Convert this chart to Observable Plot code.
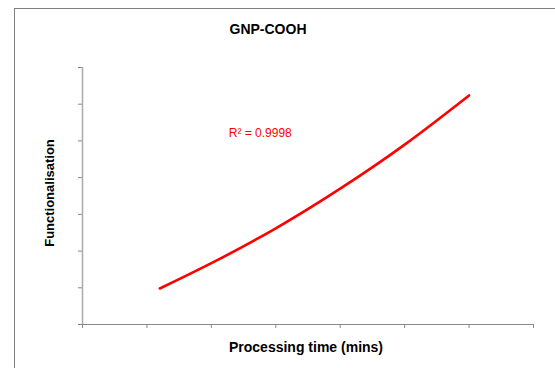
<!DOCTYPE html>
<html>
<head>
<meta charset="utf-8">
<script src="https://cdn.jsdelivr.net/npm/d3@7"></script>
<script src="https://cdn.jsdelivr.net/npm/@observablehq/plot@0.6"></script>
<style>
  html, body { margin: 0; padding: 0; background: #fff; overflow: hidden; }
  #wrap { position: relative; width: 555px; height: 368px; font-family: "Liberation Sans", Arial, sans-serif; }
  #border { position: absolute; left: 14px; top: 8px; width: 600px; height: 400px; border-left: 1px solid #808080; border-top: 1px solid #808080; box-sizing: border-box; }
  #title { position: absolute; left: 0; width: 536px; top: 21px; text-align: center; font-weight: bold; font-size: 14px; color: #000; }
  #chart { position: absolute; left: 0; top: 0; }
</style>
</head>
<body>
<div id="wrap">
  <div id="border"></div>
  <div id="title">GNP-COOH</div>
  <div id="chart"></div>
</div>
<script>
// Data (arbitrary units; the axes are unlabelled)
const times = [12, 20, 30, 40, 50, 60];
const functionalisation = [0.98, 1.67, 2.62, 3.70, 4.90, 6.24];
const xTicks = [0, 10, 20, 30, 40, 50, 60, 70];
const yTicks = [0, 1, 2, 3, 4, 5, 6, 7];
const annotation = [{x: 22.7, y: 5.2, label: "R² = 0.9998"}];

const data = times.map((t, i) => ({t, f: functionalisation[i]}));

const chart = Plot.plot({
  width: 555,
  height: 368,
  marginLeft: 82,
  marginRight: 22,
  marginTop: 67,
  marginBottom: 44,
  style: {fontFamily: "Liberation Sans, Arial, sans-serif", background: "transparent", overflow: "visible"},
  x: {domain: [0, 70], ticks: xTicks, tickFormat: () => "", label: null},
  y: {domain: [0, 7], ticks: yTicks, tickFormat: () => "", label: null},
  marks: [
    Plot.axisX({ticks: xTicks, tickFormat: () => "", tickSize: 4, stroke: "#888", label: null}),
    Plot.axisY({ticks: yTicks, tickFormat: () => "", tickSize: 4, stroke: "#888", label: null}),
    Plot.ruleY([0], {stroke: "#888", strokeWidth: 1}),
    Plot.ruleX([0], {stroke: "#aaa", strokeWidth: 1.5}),
    Plot.line(data, {x: "t", y: "f", stroke: "#ff0000", strokeWidth: 2.6, curve: "natural"}),
    Plot.text(annotation, {x: "x", y: "y", text: "label", fill: "#ff0000", fontSize: 12, textAnchor: "start"}),
    Plot.text(["Processing time (mins)"], {frameAnchor: "bottom", dx: -2, dy: 27, fontSize: 14, fontWeight: "bold", fill: "#000"}),
    Plot.text(["Functionalisation"], {frameAnchor: "left", textAnchor: "middle", dx: -33, dy: -3, rotate: -90, fontSize: 13, fontWeight: "bold", fill: "#000"})
  ]
});
document.getElementById("chart").appendChild(chart);
</script>
</body>
</html>
